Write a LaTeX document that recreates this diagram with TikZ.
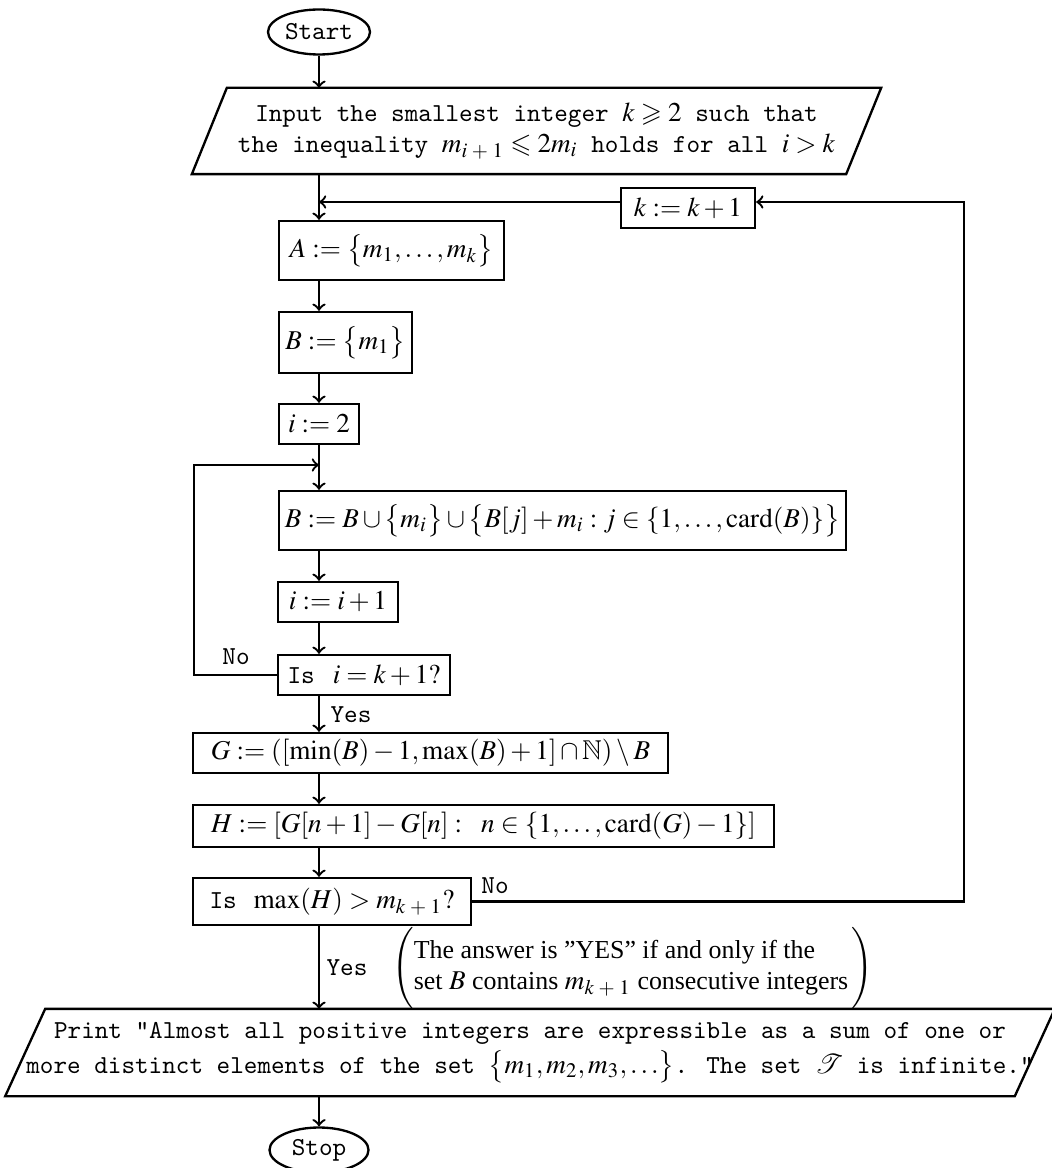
\documentclass[tikz,border=0pt]{standalone}
\usepackage{amssymb}
\usepackage{mathptmx}
\usepackage[no-math]{fontspec}
\setmainfont{Liberation Serif}
\DeclareMathSizes{10}{10.5}{8}{6}
\usetikzlibrary{shapes.geometric,calc}
\begin{document}
\begin{tikzpicture}[x=0.3861pt,y=-0.3861pt,line width=0.9pt,
  box/.style={draw,rectangle,inner sep=0pt,align=center},
  sz/.style 2 args={minimum width=#1*0.3861pt,minimum height=#2*0.3861pt},
  term/.style={draw,ellipse,inner sep=0pt,font=\ttfamily},
  arr/.style={->},
  lbl/.style={font=\ttfamily,inner sep=0pt}]
\useasboundingbox (0,0) rectangle (1052,1168);
% nodes
\node[term,sz={102}{45}] (start) at (319,32) {Start};
\node[inner sep=0pt,align=center,font=\ttfamily,sz={652}{84}] (input) at (536.5,131)
  {Input the smallest integer $k \geqslant 2$ such that\\
   the inequality $m_{i\;+\;1} \leqslant 2m_i$ holds for all $i > k$};
\draw ($(input.south west)+(-17.5,0)$) -- ($(input.north west)+(17.5,0)$)
   -- ($(input.north east)+(17.5,0)$) -- ($(input.south east)+(-17.5,0)$) -- cycle;
\node[box,sz={134}{40}] (kbox) at (688,208) {$k := k+1$};
\node[box,sz={225}{59}] (A) at (391.5,250.5) {$A := \bigl\{m_1,\ldots,m_k\bigr\}$};
\node[box,sz={133}{61}] (B) at (345.5,342.5) {$B := \bigl\{m_1\bigr\}$};
\node[box,sz={80}{40}] (i2) at (319,424) {$i := 2$};
\node[box,sz={567}{59}] (Bu) at (562.5,520.5)
  {$B := B \cup \bigl\{m_i\bigr\} \cup \bigl\{B[j] + m_i : j \in \{1,\ldots,\mathrm{card}(B)\}\bigr\}$};
\node[box,sz={120}{40}] (ii) at (338,602) {$i := i+1$};
\node[box,sz={172}{40}] (isk) at (364,675) {\texttt{Is}\hspace{7pt}$i = k+1?$};
\node[box,sz={475}{40}] (G) at (430.5,753)
  {$G := ([\min(B)-1,\max(B)+1] \cap \mathbb{N}) \setminus B$};
\node[box,sz={581}{42}] (H) at (483.5,826)
  {$H := [G[n+1]-G[n] :\enspace n \in \{1,\ldots,\mathrm{card}(G)-1\}]$};
\node[box,sz={278}{47}] (ismax) at (332,901.5) {\texttt{Is}\hspace{6.5pt}$\max(H) > m_{k\;+\;1}?$};
\node[inner sep=0pt,align=center,font=\ttfamily,sz={1000}{85}] (output) at (530,1052.5)
  {Print "Almost all positive integers are expressible as a sum of one or\\[1.5pt]
   more distinct elements of the set $\bigl\{m_1,m_2,m_3,\ldots\bigr\}$. The set $\mathcal{T}$ is infinite."};
\draw ($(output.south west)+(-20,0)$) -- ($(output.north west)+(20,0)$)
   -- ($(output.north east)+(20,0)$) -- ($(output.south east)+(-20,0)$) -- cycle;
\node[term,sz={99}{45}] (stop) at (319,1150) {Stop};
% labels
\node[lbl] (no1) at (236,657) {No};
\node[lbl] (yes1) at (351,715) {Yes};
\node[lbl] (no2) at (495,886) {No};
\node[lbl] (yes2) at (347,968) {Yes};
\node[inner sep=0pt] (note) at (632.5,968)
  {$\Biggl(\begin{tabular}{@{}l@{}}The answer is ''YES'' if and only if the\\
   set $B$ contains $m_{k\;+\;1}$ consecutive integers\end{tabular}\,\Biggr)$};
% coordinates
\coordinate (lk) at (319,202);
\coordinate (rk) at (964,202);
\coordinate (ll) at (194,465);
\coordinate (lj) at (319,465);
% connectors
\draw[arr] (start.south) -- (start.south |- input.north);
\draw[arr] (start |- input.south) -- (start |- A.north);
\draw[arr] (kbox.west |- lk) -- (lk);
\draw[arr] (ismax.east) -| (rk) -- (kbox.east |- rk);
\draw[arr] (start |- A.south) -- (start |- B.north);
\draw[arr] (start |- B.south) -- (start |- i2.north);
\draw[arr] (i2.south) -- (start |- Bu.north);
\draw[arr] (isk.west) -| (ll) -- (lj);
\draw[arr] (start |- Bu.south) -- (start |- ii.north);
\draw[arr] (start |- ii.south) -- (start |- isk.north);
\draw[arr] (start |- isk.south) -- (start |- G.north);
\draw[arr] (start |- G.south) -- (start |- H.north);
\draw[arr] (start |- H.south) -- (start |- ismax.north);
\draw[arr] (start |- ismax.south) -- (start |- output.north);
\draw[arr] (start |- output.south) -- (stop.north);
\end{tikzpicture}
\end{document}
